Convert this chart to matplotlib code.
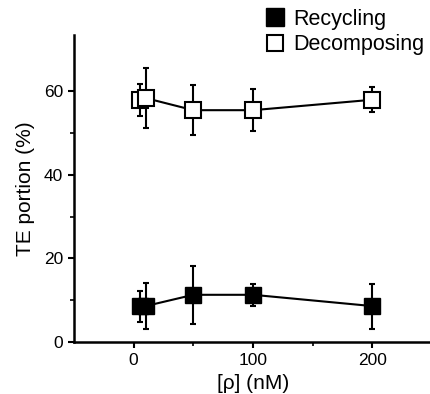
import matplotlib.pyplot as plt
from matplotlib.lines import Line2D
import numpy as np

plt.rcParams['font.family'] = ['Liberation Sans', 'DejaVu Sans']

# 数据
conc = [5, 10, 50, 100, 200]
recycling = [8.6, 8.6, 11.3, 11.3, 8.6]
recycling_err = [3.7, 5.5, 6.9, 2.7, 5.4]
decomposing = [58.0, 58.4, 55.5, 55.5, 58.0]
decomposing_err = [3.8, 7.1, 6.0, 5.1, 3.0]

fig = plt.figure(figsize=(4.31, 3.94), dpi=100)
ax = fig.add_axes([74/431, 52/394, 358/431, 307/394])

ax.errorbar(conc, recycling, yerr=recycling_err, color='black', marker='s', ms=12,
            mfc='black', mec='black', lw=1.5, elinewidth=1.5, capsize=2.5, capthick=1.5,
            zorder=3)
ax.errorbar(conc, decomposing, yerr=decomposing_err, color='black', marker='s', ms=11,
            mfc='white', mec='black', mew=1.5, lw=1.5, elinewidth=1.5, capsize=2.5, capthick=1.5,
            zorder=3)

ax.set_xlim(-50, 250)
ax.set_ylim(0, 73.5)
ax.set_xticks([0, 100, 200])
ax.set_xticks([50, 150], minor=True)
ax.set_yticks([0, 20, 40, 60])
ax.set_yticks([10, 30, 50], minor=True)
ax.tick_params(which='major', length=4, width=1.5, labelsize=12.5, pad=4)
ax.tick_params(which='minor', length=3, width=1.2)

for s in ['top', 'right']:
    ax.spines[s].set_visible(False)
for s in ['left', 'bottom']:
    ax.spines[s].set_linewidth(1.8)

ax.set_xlabel('[ρ] (nM)', fontsize=15, labelpad=4)
ax.set_ylabel('TE portion (%)', fontsize=15, labelpad=6)

h = [Line2D([], [], ls='none', marker='s', ms=13, mfc='black', mec='black'),
     Line2D([], [], ls='none', marker='s', ms=12, mfc='white', mec='black', mew=1.5)]
fig.legend(h, ['Recycling', 'Decomposing'], loc='upper left',
           bbox_to_anchor=(265/431, 1 - 9/394), frameon=False, borderpad=0,
           borderaxespad=0, fontsize=15.5, handlelength=0.9, handletextpad=0.4,
           labelspacing=0.2)

plt.savefig('out.png', dpi=100)
